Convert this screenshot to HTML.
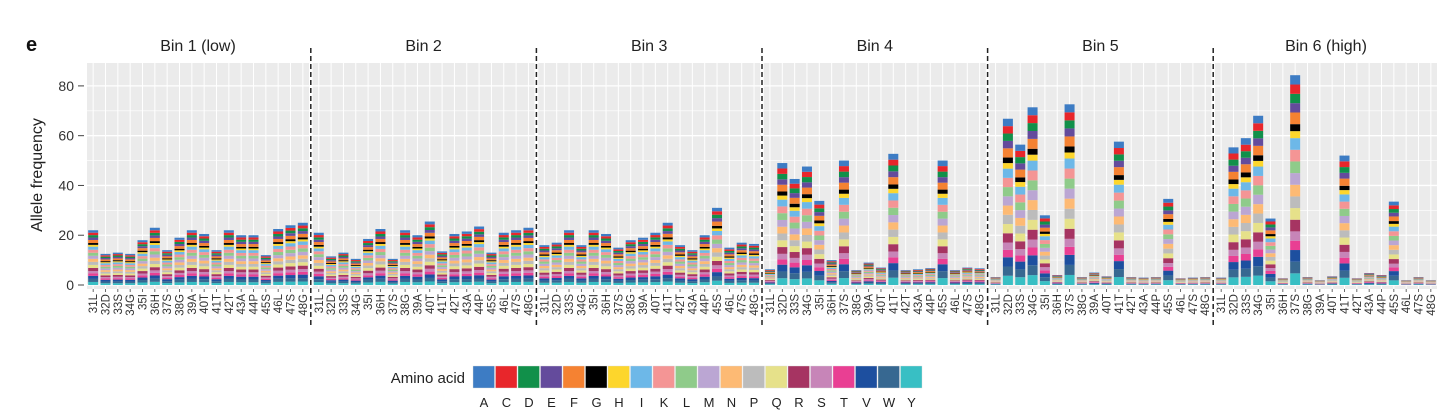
<!DOCTYPE html>
<html><head><meta charset="utf-8">
<style>
html,body{margin:0;padding:0;background:#fff;width:1456px;height:420px;overflow:hidden}
svg{display:block;font-family:"Liberation Sans","DejaVu Sans",sans-serif}
</style></head>
<body>
<svg id="chart" width="1456" height="420" viewBox="0 0 1456 420" xmlns="http://www.w3.org/2000/svg">
<text x="26" y="51" font-size="20" font-weight="bold" fill="#111">e</text>
<text transform="translate(42,175) rotate(-90)" text-anchor="middle" font-size="16" fill="#222">Allele frequency</text>
<g id="plot"></g>
<g id="legend">
<text x="465" y="383" text-anchor="end" font-size="15" fill="#222">Amino acid</text>
</g>
</svg>
<script>
const aminoAcids = ["A","C","D","E","F","G","H","I","K","L","M","N","P","Q","R","S","T","V","W","Y"];
const colors = ["#3d7cc4","#e8262b","#11904a","#644b9c","#f58232","#000000","#fdd62c","#6db8e8","#f49595","#8fcb8a","#bba6d3","#fdba74","#bcbcbc","#e6e18a","#a63462","#c785b8","#e93f93","#1d4f9f","#376891","#38bfc4"];
const shares = [4,4,4,4,5,3,3,5,5,5,5,5,5,5,5,4,4,5,5,5];
const panelTitles = ["Bin 1 (low)","Bin 2","Bin 3","Bin 4","Bin 5","Bin 6 (high)"];
const positions = ["31L","32D","33S","34G","35I","36H","37S","38G","39A","40T","41T","42T","43A","44P","45S","46L","47S","48G"];
const bin1 = [22,12.5,13,12.5,18,23,14,19,22,20.5,14,22,20,20,12,22.5,24,25];
const bin2 = [21,11.5,13,10.5,18.5,22.5,10.5,22,20,25.5,13.5,20.5,21.5,23.5,13,21,22,23];
const bin3 = [16,17,22,16,22,20.5,15,18,19,21,25,16,14,20,31,15,17,16.5];
const bin4 = [6.3,49,42.6,47.6,33.8,10,50,6,9,7,52.7,6,6.3,6.8,50,6,7,6.7];
const bin5 = [3.2,66.8,56.4,71.4,28,4,72.6,3.2,5,3.5,57.6,3.2,3,3.2,34.6,2.7,3,3.2];
const bin6 = [3,55.3,59,68,26.7,2.7,84.3,3.2,1.9,3.5,52,2.7,4.8,4,33.5,1.9,3.2,1.9];
const binTotals = [bin1,bin2,bin3,bin4,bin5,bin6];
const yTicks = [0,20,40,60,80];

const NS="http://www.w3.org/2000/svg";
const plot=document.getElementById('plot');
const legend=document.getElementById('legend');
const yMax=89.2, yBase=285, yTop=63;
const yScale=v=>yBase-v*(yBase-yTop)/yMax;
const panelX0=87, panelPitch=225.6, panelW=222;
const step=panelW/positions.length, barW=10;
const xScale=(p,i)=>panelX0+p*panelPitch+(i+0.5)*step;
function mk(tag,attrs,parent){const e=document.createElementNS(NS,tag);for(const k in attrs)e.setAttribute(k,attrs[k]);parent.appendChild(e);return e;}
const shareSum=shares.reduce((a,b)=>a+b,0);

yTicks.forEach(t=>{
  const y=yScale(t);
  const tk=mk('line',{x1:78,x2:84,y1:y,y2:y,stroke:'#444','stroke-width':1},plot);
  
  
  const tl=mk('text',{x:74,y:y+5,'text-anchor':'end','font-size':14,fill:'#333'},plot);
  tl.textContent=t;
  
  
});

binTotals.forEach((tot,p)=>{
  const x0=panelX0+p*panelPitch;
  const g=mk('g',{},plot);
  
  
  const bg=mk('rect',{x:x0,y:yTop,width:panelW,height:yBase-yTop+4,fill:'#ebebeb'},g);
  
  
  for(let v=10;v<yMax;v+=10){
    const y=yScale(v);
    mk('line',{x1:x0,x2:x0+panelW,y1:y,y2:y,stroke:'#fff','stroke-width':v%20===0?1.3:0.6},g);
  }
  mk('line',{x1:x0,x2:x0+panelW,y1:yBase,y2:yBase,stroke:'#fff','stroke-width':1.3},g);
  positions.forEach((pos,i)=>{
    const cx=xScale(p,i);
    mk('line',{x1:cx,x2:cx,y1:yTop,y2:yBase+4,stroke:'#fff','stroke-width':1},g);
  });
  const title=mk('text',{x:x0+panelW/2,y:51,'text-anchor':'middle','font-size':16,fill:'#222'},g);
  title.textContent=panelTitles[p];
  
  
  positions.forEach((pos,i)=>{
    const cx=xScale(p,i);
    const bar=mk('g',{},g);
    
    
    let acc=0;
    for(let k=aminoAcids.length-1;k>=0;k--){
      const v=tot[i]*shares[k]/shareSum;
      const yA=yScale(acc), yB=yScale(acc+v);
      const seg=mk('rect',{x:cx-barW/2,y:yB,width:barW,height:Math.max(0,yA-yB),fill:colors[k]},bar);
      
      
      acc+=v;
    }
    mk('line',{x1:cx,x2:cx,y1:yBase+4,y2:yBase+7,stroke:'#444','stroke-width':0.8},g);
    const lab=mk('text',{transform:'translate('+(cx+4)+','+(yBase+9)+') rotate(-90)','text-anchor':'end','font-size':11.5,fill:'#333'},g);
    lab.textContent=pos;
    
    
  });
  if(p>0){
    const dx=x0-1.8;
    const d=mk('line',{x1:dx,x2:dx,y1:48,y2:327,stroke:'#222','stroke-width':1.5,'stroke-dasharray':'5,3'},plot);
    
    
  }
});

aminoAcids.forEach((a,k)=>{
  const x=473+k*22.5;
  const sw=mk('rect',{x:x,y:366,width:21.5,height:22,fill:colors[k],stroke:'#ddd','stroke-width':0.4},legend);
  
  
  const t=mk('text',{x:x+11,y:407,'text-anchor':'middle','font-size':13,fill:'#222'},legend);
  t.textContent=a;
  
  
});
</script>
</body></html>
